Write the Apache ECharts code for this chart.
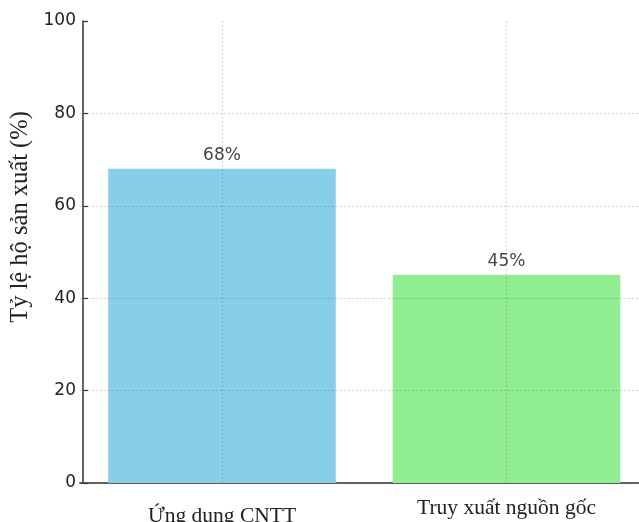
<!DOCTYPE html>
<html>
<head>
<meta charset="utf-8">
<script src="https://cdn.jsdelivr.net/npm/echarts@6/dist/echarts.min.js"></script>
<style>
  html, body { margin: 0; padding: 0; background: #fff; }
  #chart { width: 639px; height: 522px; }
</style>
</head>
<body>
<div id="chart"></div>
<script>
// Share of farming households (%) by activity
const categories = ['Ứng dụng CNTT', 'Truy xuất nguồn gốc'];
const shares = [68, 45];
const barColors = ['#87CEEB', '#90EE90'];
const yTicks = [0, 20, 40, 60, 80, 100];
const yTitle = 'Tỷ lệ hộ sản xuất (%)';

const sans = 'DejaVu Sans';
const serif = 'Liberation Serif';
const gridColor = 'rgba(0,0,0,0.17)';

const chart = echarts.init(document.getElementById('chart'), null, { renderer: 'canvas' });

chart.setOption({
  backgroundColor: '#ffffff',
  animation: false,
  // plot area runs slightly past the right edge of the canvas
  grid: {
    left: 79.75, width: 569, top: 21, bottom: 39,
    containLabel: false,
    outerBoundsMode: 'none'
  },
  xAxis: {
    type: 'category',
    data: categories,
    boundaryGap: true,
    axisLine: { lineStyle: { color: '#333', width: 1.5 } },
    axisTick: { show: false },
    splitLine: { show: false },
    axisLabel: {
      margin: 14,
      formatter: (v, i) => (i === 0 ? '{a|' + v + '}' : '{b|' + v + '}'),
      rich: {
        a: { fontFamily: serif, fontSize: 21.5, color: '#222', padding: [8, 0, 0, 0] },
        b: { fontFamily: serif, fontSize: 21.5, color: '#222' }
      }
    }
  },
  yAxis: {
    type: 'value',
    min: yTicks[0],
    max: yTicks[yTicks.length - 1],
    interval: yTicks[1] - yTicks[0],
    offset: -3.25,
    z: 3,
    axisLine: { show: true, lineStyle: { color: '#333', width: 1.5 } },
    axisTick: { show: true, inside: true, length: 5, lineStyle: { color: '#333', width: 1.2 } },
    axisLabel: { fontFamily: sans, fontSize: 17, color: '#222', margin: 7 },
    splitLine: {
      show: true,
      showMaxLine: false,
      lineStyle: { color: gridColor, type: [2, 2], width: 1 }
    }
  },
  graphic: [{
    type: 'text',
    x: 21,
    y: 217,
    rotation: Math.PI / 2,
    style: {
      text: yTitle,
      fontFamily: serif,
      fontSize: 24.5,
      fill: '#222',
      textAlign: 'center',
      textVerticalAlign: 'middle'
    }
  }],
  series: [{
    type: 'bar',
    data: shares.map((v, i) => ({ value: v, itemStyle: { color: barColors[i] } })),
    barCategoryGap: '20%',
    label: {
      show: true,
      position: 'top',
      distance: 5,
      formatter: '{c}%',
      fontFamily: sans,
      fontSize: 17,
      color: '#444'
    },
    markLine: {
      silent: true,
      symbol: 'none',
      label: { show: false },
      lineStyle: { color: gridColor, type: [2, 2], width: 1 },
      data: categories.map(c => ({ xAxis: c }))
    }
  }]
});
</script>
</body>
</html>
